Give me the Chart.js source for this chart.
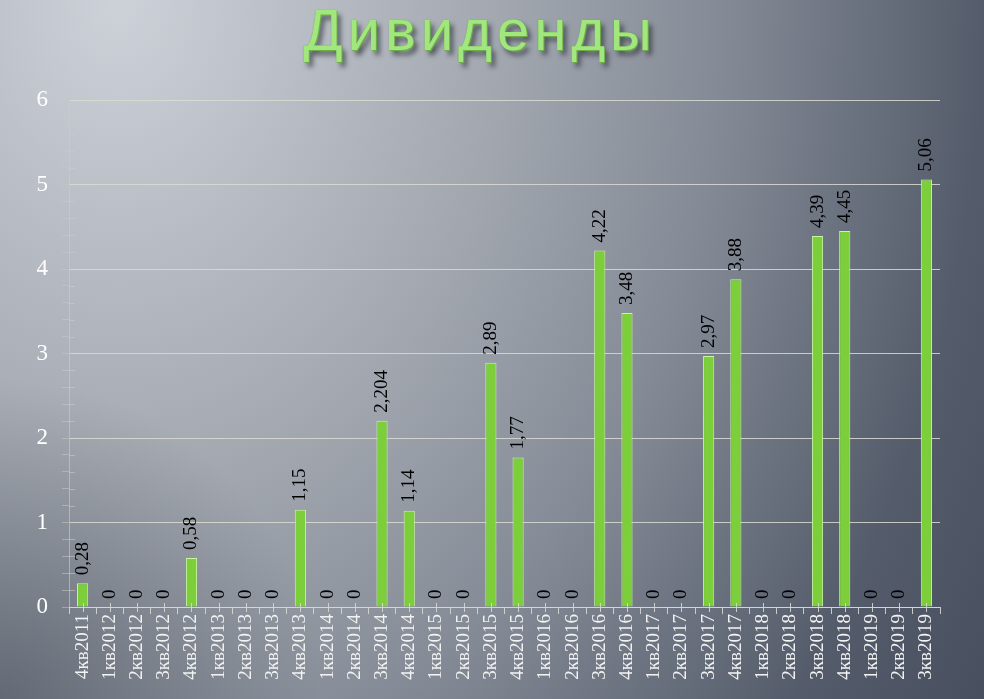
<!DOCTYPE html>
<html>
<head>
<meta charset="utf-8">
<script src="https://cdn.jsdelivr.net/npm/chart.js@4"></script>
<style>
    html, body { margin: 0; padding: 0; }
    body {
        width: 984px; height: 699px; overflow: hidden; position: relative;
        background:
            radial-gradient(circle at 0% 100%, rgba(40,46,58,0.4) 0px, rgba(40,46,58,0) 320px),
            radial-gradient(ellipse 110% 200% at 12% 0%, #cdd1d8 0%, #a9aeb6 30%, #868c97 55%, #545c6b 80%, #434b5a 100%);
    }
    #title {
        position: absolute; left: 0; width: 960px; top: -4px; text-align: center;
        font-family: "Liberation Sans", Arial, sans-serif; font-size: 58px;
        letter-spacing: 5px; color: #a2e67e;
        text-shadow: 0 0 1px #5f9e3c, 1px 1px 0 #6fae4a, 4px 5px 5px rgba(20,25,30,0.6);
    }
    #wrap { position: absolute; left: 0; top: 0; width: 984px; height: 699px; }
</style>
</head>
<body>
<div id="title">Дивиденды</div>
<div id="wrap"><canvas id="divChart"></canvas></div>
<script>
var quarters = ['4кв2011', '1кв2012', '2кв2012', '3кв2012', '4кв2012', '1кв2013', '2кв2013', '3кв2013',
    '4кв2013', '1кв2014', '2кв2014', '3кв2014', '4кв2014', '1кв2015', '2кв2015', '3кв2015',
    '4кв2015', '1кв2016', '2кв2016', '3кв2016', '4кв2016', '1кв2017', '2кв2017', '3кв2017',
    '4кв2017', '1кв2018', '2кв2018', '3кв2018', '4кв2018', '1кв2019', '2кв2019', '3кв2019'];
var dividends = [0.28, 0, 0, 0, 0.58, 0, 0, 0,
    1.15, 0, 0, 2.204, 1.14, 0, 0, 2.89,
    1.77, 0, 0, 4.22, 3.48, 0, 0, 2.97,
    3.88, 0, 0, 4.39, 4.45, 0, 0, 5.06];
var yMax = 6;

function isMajor(v) { return Math.abs(v - Math.round(v)) < 1e-6; }

// value labels above bars, rotated
var barLabels = {
    id: 'barLabels',
    afterDatasetsDraw: function (chart) {
        var ctx = chart.ctx;
        var meta = chart.getDatasetMeta(0);
        ctx.save();
        ctx.font = '19px "Liberation Serif", "Times New Roman", serif';
        ctx.fillStyle = '#000';
        ctx.textAlign = 'left';
        ctx.textBaseline = 'middle';
        meta.data.forEach(function (bar, i) {
            var txt = String(dividends[i]).replace('.', ',');
            ctx.save();
            ctx.translate(bar.x, bar.y - 8);
            ctx.rotate(-Math.PI / 2);
            ctx.fillText(txt, 0, 0);
            ctx.restore();
        });
        ctx.restore();
    }
};

// small ticks at category centres on the x axis, minor ticks across the y axis
var axisTicks = {
    id: 'axisTicks',
    afterDraw: function (chart) {
        var ctx = chart.ctx;
        var xs = chart.scales.x;
        var ys = chart.scales.y;
        var y0 = ys.getPixelForValue(0);
        ctx.save();
        ctx.strokeStyle = 'rgba(215,215,210,0.9)';
        ctx.lineWidth = 1;
        for (var i = 0; i < quarters.length; i++) {
            var x = Math.round(xs.getPixelForValue(i)) + 0.5;
            ctx.beginPath();
            ctx.moveTo(x, y0 - 4);
            ctx.lineTo(x, y0 + 5);
            ctx.stroke();
        }
        ctx.strokeStyle = 'rgba(205,205,200,0.55)';
        ys.ticks.forEach(function (t) {
            if (isMajor(t.value)) return;
            var y = Math.round(ys.getPixelForValue(t.value)) + 0.5;
            ctx.beginPath();
            ctx.moveTo(ys.right, y);
            ctx.lineTo(ys.right + 6, y);
            ctx.stroke();
        });
        ctx.restore();
    }
};

document.addEventListener('DOMContentLoaded', function () {
    var ctx = document.getElementById('divChart').getContext('2d');
    new Chart(ctx, {
        type: 'bar',
        data: {
            labels: quarters,
            datasets: [{
                label: 'Дивиденды',
                data: dividends,
                backgroundColor: '#7ccf3a',
                borderColor: '#c9f5a0',
                borderWidth: 1,
                borderSkipped: 'bottom',
                barPercentage: 0.82,
                categoryPercentage: 0.5
            }]
        },
        options: {
            responsive: true,
            maintainAspectRatio: false,
            animation: false,
            layout: { padding: { top: 100, right: 44, left: 0, bottom: 0 } },
            plugins: {
                legend: { display: false },
                tooltip: { enabled: false }
            },
            scales: {
                x: {
                    offset: true,
                    afterFit: function (scale) { scale.height = 92; },
                    grid: {
                        offset: true,
                        drawOnChartArea: false,
                        color: 'rgba(215,215,210,0.9)',
                        tickLength: 7
                    },
                    border: { color: 'rgba(215,215,210,0.9)' },
                    ticks: {
                        minRotation: 90, maxRotation: 90,
                        autoSkip: false,
                        padding: 0,
                        color: '#f2f2f2',
                        font: { family: '"Liberation Serif", "Times New Roman", serif', size: 19 }
                    }
                },
                y: {
                    min: 0, max: yMax,
                    afterFit: function (scale) { scale.width = 69; },
                    grid: {
                        color: function (c) { return isMajor(c.tick.value) ? 'rgba(220,220,212,0.85)' : 'rgba(0,0,0,0)'; },
                        tickColor: 'rgba(200,200,195,0.55)',
                        tickLength: 7
                    },
                    border: { color: 'rgba(205,205,200,0.6)' },
                    ticks: {
                        stepSize: 0.2,
                        autoSkip: false,
                        padding: 14,
                        color: '#ffffff',
                        font: { family: '"Liberation Serif", "Times New Roman", serif', size: 23 },
                        callback: function (v) { return isMajor(v) ? String(Math.round(v)) : ''; }
                    }
                }
            }
        },
        plugins: [barLabels, axisTicks]
    });
});
</script>
</body>
</html>
